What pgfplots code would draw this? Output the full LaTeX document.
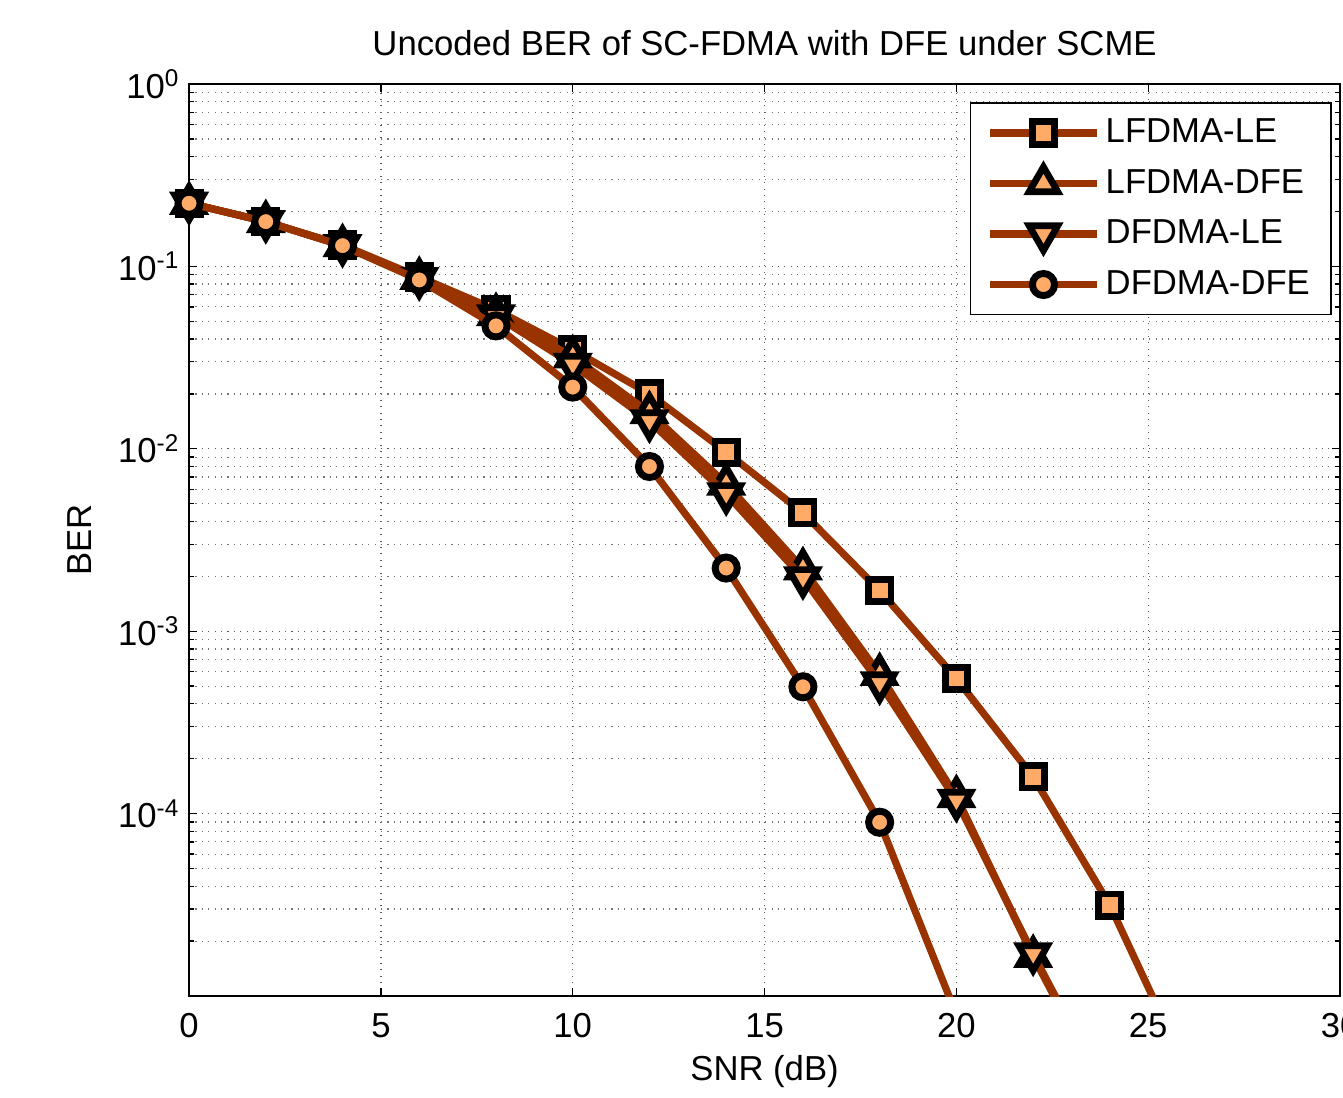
\documentclass[border=0pt]{standalone}
\usepackage{fontspec}
\setmainfont{Liberation Sans}
\usepackage{pgfplots}
\pgfplotsset{compat=1.18}
\usetikzlibrary{calc}
\definecolor{lc}{HTML}{993300}
\definecolor{mf}{HTML}{FFAA66}
\newcommand{\fs}{\fontsize{13}{15}\selectfont}
\tikzset{mk/.style={draw=black, fill=mf, line width=2.5pt, solid}}

\begin{document}
\begin{tikzpicture}
\begin{axis}[
    name=ax,
    scale only axis,
    width=431.6pt, height=342pt,
    ymode=log,
    xmin=0, xmax=30, ymin=1e-5, ymax=1,
    xtick={0,5,...,30},
    ytick={1e-5,1e-4,1e-3,1e-2,1e-1,1},
    yticklabels={,10\textsuperscript{-4},10\textsuperscript{-3},10\textsuperscript{-2},10\textsuperscript{-1},10\textsuperscript{0}},
    /pgf/number format/assume math mode=true,
    tick align=inside,
    major tick length=3pt, minor tick length=1.8pt,
    tick style={black, line width=0.5pt},
    axis line style={black, line width=0.6pt},
    grid=both,
    major grid style={black!65, dotted, line width=0.5pt},
    minor grid style={black!55, dotted, line width=0.45pt},
    ticklabel style={font=\fs},
    xticklabel style={yshift=-3pt},
    title={Uncoded BER of SC-FDMA with DFE under SCME},
    title style={font=\fs, at={(axis description cs:0.5,1.0427)}, anchor=center, yshift=-5.3pt},
    xlabel={SNR (dB)},
    xlabel style={font=\fs, at={(axis description cs:0.5,-0.0833)}, anchor=center},
    ylabel={BER},
    ylabel style={font=\fs, at={(axis description cs:-0.095,0.5)}, anchor=center},
    clip mode=individual,
    ser/.style={color=lc, line width=2.7pt},
    legend style={at={(rel axis cs:0.993,0.98)}, anchor=north east, draw=black,
        fill=white, line width=0.6pt, font=\fs, row sep=4.5pt,
        inner xsep=6pt, inner ysep=4pt, cells={anchor=west}},
    legend image code/.code={\draw[mark indices={2}]
        plot coordinates {(0pt,0pt) (20pt,0pt) (40pt,0pt)};},
]
% LFDMA-LE
\addplot[ser, mark=square*, mark size=4.2pt, mark options={mk}, mark indices={1,...,13}] coordinates {
    (0,0.222) (2,0.176) (4,0.131) (6,0.0875) (8,0.0578) (10,0.0349)
    (12,0.0200) (14,0.0096) (16,0.00446) (18,0.00167) (20,5.5e-4)
    (22,1.59e-4) (24,3.15e-5) (26,3.95e-6)
};
\addlegendentry{LFDMA-LE}
% LFDMA-DFE
\addplot[ser, mark=triangle*, mark size=6.2pt, mark options={mk}, mark indices={1,...,12}] coordinates {
    (0,0.222) (2,0.176) (4,0.130) (6,0.086) (8,0.0545) (10,0.0320)
    (12,0.0158) (14,0.00642) (16,0.00220) (18,5.8e-4) (20,1.24e-4)
    (22,1.65e-5) (24,2.6e-6)
};
\addlegendentry{LFDMA-DFE}
% DFDMA-LE
\addplot[ser, mark=triangle*, mark size=6.2pt, mark options={mk, rotate=180}, mark indices={1,...,12}] coordinates {
    (0,0.222) (2,0.176) (4,0.130) (6,0.0855) (8,0.0535) (10,0.0290)
    (12,0.0142) (14,0.00566) (16,0.00196) (18,5.2e-4) (20,1.18e-4)
    (22,1.70e-5) (24,2.7e-6)
};
\addlegendentry{DFDMA-LE}
% DFDMA-DFE
\addplot[ser, mark=*, mark size=4.15pt, mark options={mk, line width=2.6pt}, mark indices={1,...,10}] coordinates {
    (0,0.222) (2,0.176) (4,0.130) (6,0.0843) (8,0.0472) (10,0.0218)
    (12,0.0080) (14,0.00222) (16,4.96e-4) (18,8.97e-5) (20,7.9e-6)
};
\addlegendentry{DFDMA-DFE}
\end{axis}
\pgfresetboundingbox
\path ($(ax.south west)+(-70.9pt,-37.9pt)$) rectangle ($(ax.north east)+(1.1pt,31.5pt)$);
\end{tikzpicture}
\end{document}
